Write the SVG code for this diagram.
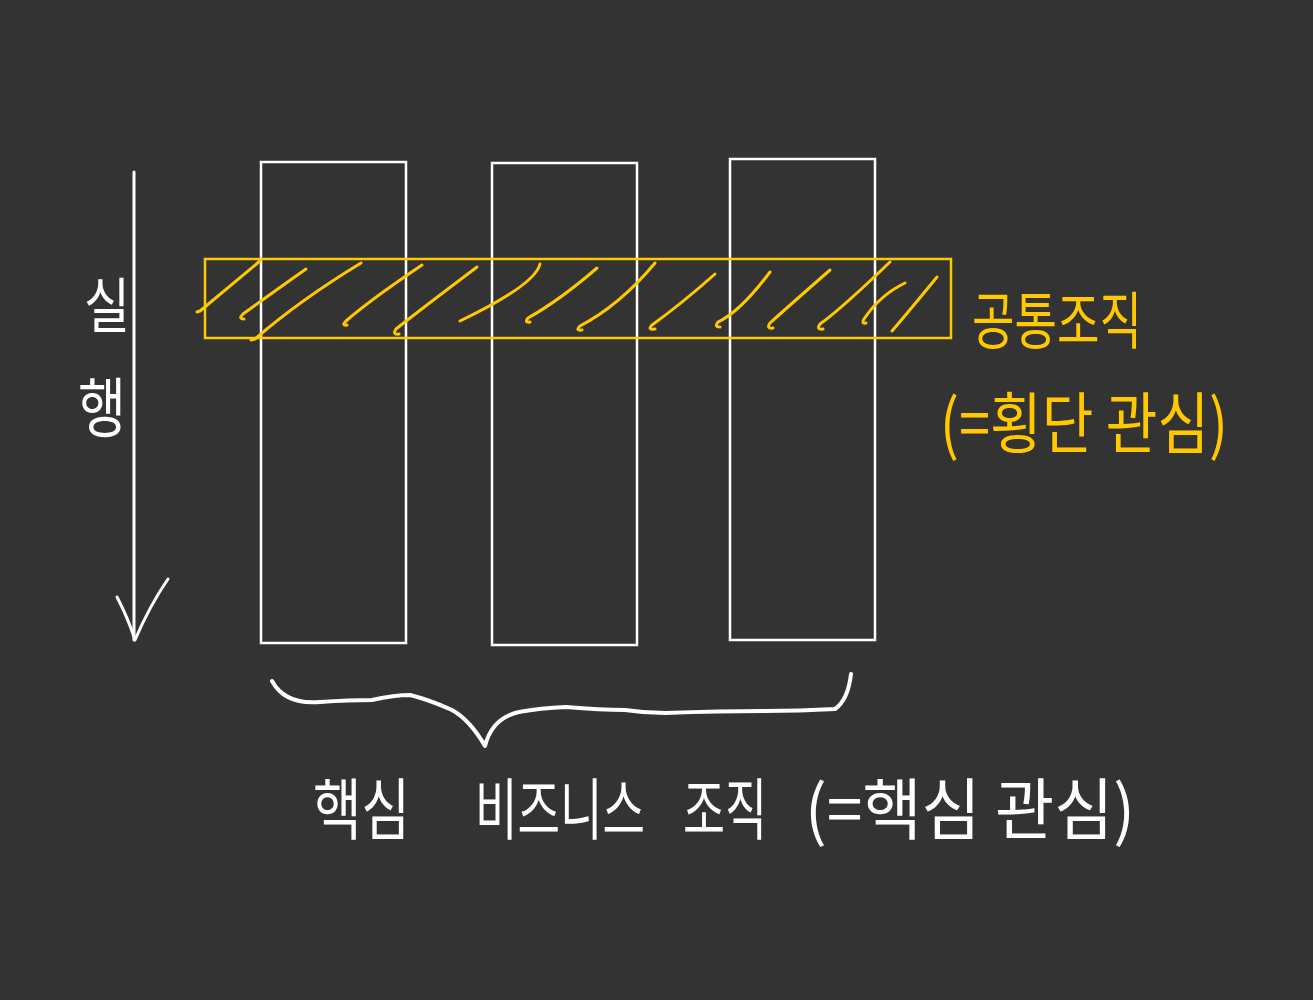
<svg xmlns="http://www.w3.org/2000/svg" width="1313" height="1000" viewBox="0 0 1313 1000">
<style>
.bg{fill:#333333}
.col{fill:none;stroke:#ffffff;stroke-width:2.5}
.band{fill:none;stroke:#ffc800;stroke-width:2.5}
.hatch{fill:none;stroke:#ffc800;stroke-width:3;stroke-linecap:round;stroke-linejoin:round}
.wline{fill:none;stroke:#ffffff;stroke-width:3;stroke-linecap:round;stroke-linejoin:round}
.brace{fill:none;stroke:#ffffff;stroke-width:4;stroke-linecap:round;stroke-linejoin:round}
.wt{fill:#ffffff;font-family:"Noto Sans CJK KR","Noto Sans",sans-serif;font-weight:400}
.yt{fill:#ffc800;font-family:"Noto Sans CJK KR","Noto Sans",sans-serif;font-weight:400}
</style>
<rect class="bg" x="0" y="0" width="1313" height="1000"/>
<g id="column-1"><rect class="col" x="261" y="162" width="145" height="481"/></g>
<g id="column-2"><rect class="col" x="492" y="163" width="145" height="482"/></g>
<g id="column-3"><rect class="col" x="730" y="159" width="145" height="481"/></g>
<g id="common-band">
<rect class="band" x="205" y="259" width="746" height="79"/>
<g class="hatch-set">
<path class="hatch" d="M260,261 L200,311 l-3,1"/>
<path class="hatch" d="M306,269 Q265,298 243,314 q-5,5 1,5"/>
<path class="hatch" d="M361,263 Q300,300 255,339 l-4,1"/>
<path class="hatch" d="M422,265 Q370,300 346,321 q-5,5 1,4"/>
<path class="hatch" d="M477,267 Q420,310 396,329 q-4,6 3,5"/>
<path class="hatch" d="M540,264 Q535,285 460,321"/>
<path class="hatch" d="M597,268 Q560,300 528,318 q-4,5 2,4"/>
<path class="hatch" d="M655,263 Q620,305 580,326 q-5,5 2,4"/>
<path class="hatch" d="M715,274 Q680,305 652,325 q-5,5 3,4"/>
<path class="hatch" d="M770,272 Q740,312 718,322 q-4,5 2,5"/>
<path class="hatch" d="M830,270 Q790,305 770,323 q-4,6 3,5"/>
<path class="hatch" d="M890,262 Q840,310 820,324 q-4,6 3,5"/>
<path class="hatch" d="M905,283 Q880,295 864,319 q-3,5 2,4"/>
<path class="hatch" d="M937,277 Q910,310 892,331"/>
</g>
</g>
<g id="label-common">
<text class="yt" transform="translate(972,344) scale(1,1.45)" x="0" y="0" font-size="43" textLength="170" lengthAdjust="spacingAndGlyphs">공통조직</text>
<text class="yt" transform="translate(940,448) scale(1,1.45)" x="0" y="0" font-size="46" textLength="288" lengthAdjust="spacingAndGlyphs">(=횡단 관심)</text>
</g>
<g id="label-exec">
<text class="wt" transform="translate(107,328) scale(1,1.2)" x="0" y="0" font-size="50" text-anchor="middle">실</text>
<text class="wt" transform="translate(102,432) scale(1,1.25)" x="0" y="0" font-size="52" text-anchor="middle">행</text>
</g>
<g id="label-core">
<text class="wt" transform="translate(313,834) scale(1,1.45)" x="0" y="0" font-size="46" textLength="97" lengthAdjust="spacingAndGlyphs">핵심</text>
<text class="wt" transform="translate(475,834) scale(1,1.45)" x="0" y="0" font-size="46" textLength="170" lengthAdjust="spacingAndGlyphs">비즈니스</text>
<text class="wt" transform="translate(683,834) scale(1,1.45)" x="0" y="0" font-size="46" textLength="84" lengthAdjust="spacingAndGlyphs">조직</text>
<text class="wt" transform="translate(805,834) scale(1,1.45)" x="0" y="0" font-size="46" textLength="330" lengthAdjust="spacingAndGlyphs">(=핵심 관심)</text>
</g>
<g id="connectors">
<path id="exec-arrow" class="wline" d="M134,172 L134,640"/>
<path id="exec-arrowhead" class="wline" d="M117,597 Q128,618 135,640 Q150,605 168,579"/>
<path id="core-brace" class="brace" d="M272,681 Q285,705 320,702 Q350,700 372,700 Q395,695 410,695 Q430,700 452,710 Q470,720 485,746 Q492,718 519,712 Q540,708 566,707 Q600,710 625,710 Q645,713 665,713 Q720,711 764,711 Q800,711 835,709 Q848,700 851,674"/>
</g>
</svg>
